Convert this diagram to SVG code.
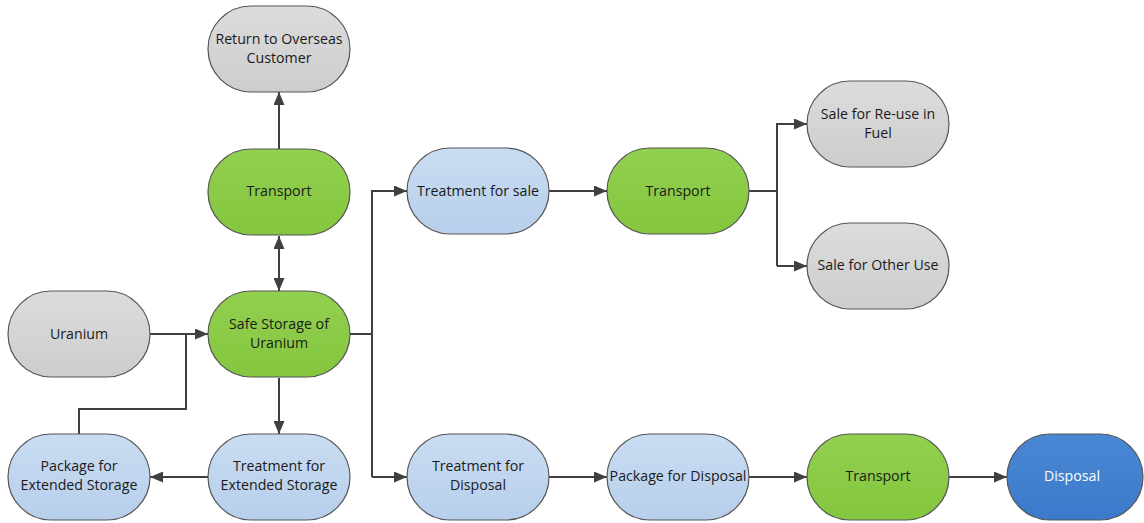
<svg xmlns="http://www.w3.org/2000/svg" width="1144" height="523" viewBox="0 0 1144 523">
<defs>
<linearGradient id="gGray" x1="0" y1="0" x2="0" y2="1"><stop offset="0" stop-color="#dcdcdc"/><stop offset="1" stop-color="#cdcdcd"/></linearGradient>
<linearGradient id="gGreen" x1="0" y1="0" x2="0" y2="1"><stop offset="0" stop-color="#92d050"/><stop offset="1" stop-color="#84c63e"/></linearGradient>
<linearGradient id="gLBlue" x1="0" y1="0" x2="0" y2="1"><stop offset="0" stop-color="#c9dcf2"/><stop offset="1" stop-color="#b7cfeb"/></linearGradient>
<linearGradient id="gBlue" x1="0" y1="0" x2="0" y2="1"><stop offset="0" stop-color="#4a88d4"/><stop offset="1" stop-color="#3b7acb"/></linearGradient>
<marker id="ah" viewBox="0 0 13 11" refX="13" refY="5.5" markerWidth="13" markerHeight="11" markerUnits="userSpaceOnUse" orient="auto-start-reverse">
<path d="M0,0 L13,5.5 L0,11 z" fill="#404040"/>
</marker>
</defs>
<style>
.n rect{stroke:#555;stroke-width:1.2}
.gray rect{fill:url(#gGray)}
.green rect{fill:url(#gGreen)}
.lblue rect{fill:url(#gLBlue)}
.blue rect{fill:url(#gBlue)}
.n text{font-family:"Open Sans","Liberation Sans",sans-serif;font-size:14.2px;fill:#1a1a1a;text-anchor:middle}
.blue text{fill:#ffffff}
.c path{fill:none;stroke:#404040;stroke-width:2}
</style>
<g class="c">
<path d="M279,149 V92" marker-end="url(#ah)"/>
<path d="M279,236 V291" marker-start="url(#ah)" marker-end="url(#ah)"/>
<path d="M150,334 H208" marker-end="url(#ah)"/>
<path d="M79,434 V409 H186 V334"/>
<path d="M279,378 V434" marker-end="url(#ah)"/>
<path d="M208,477 H150" marker-end="url(#ah)"/>
<path d="M350,334 H372"/>
<path d="M372,477 V191 H407" marker-end="url(#ah)"/>
<path d="M372,477 H407" marker-end="url(#ah)"/>
<path d="M549,191 H607" marker-end="url(#ah)"/>
<path d="M749,191 H777"/>
<path d="M777,266 V124 H807" marker-end="url(#ah)"/>
<path d="M777,266 H807" marker-end="url(#ah)"/>
<path d="M549,477 H607" marker-end="url(#ah)"/>
<path d="M749,477 H807" marker-end="url(#ah)"/>
<path d="M949,477 H1007" marker-end="url(#ah)"/>
</g>
<g id="return" class="n gray"><rect x="208" y="6" width="142" height="86" rx="43"/><text x="279" y="44">Return to Overseas</text><text x="279" y="63">Customer</text></g>
<g id="transport1" class="n green"><rect x="208" y="149" width="142" height="86" rx="43"/><text x="279" y="196">Transport</text></g>
<g id="uranium" class="n gray"><rect x="8" y="291" width="142" height="86" rx="43"/><text x="79" y="339">Uranium</text></g>
<g id="safe" class="n green"><rect x="208" y="291" width="142" height="86" rx="43"/><text x="279" y="329">Safe Storage of</text><text x="279" y="348">Uranium</text></g>
<g id="pkgext" class="n lblue"><rect x="8" y="434" width="142" height="86" rx="43"/><text x="79" y="471">Package for</text><text x="79" y="490">Extended Storage</text></g>
<g id="treatext" class="n lblue"><rect x="208" y="434" width="142" height="86" rx="43"/><text x="279" y="471">Treatment for</text><text x="279" y="490">Extended Storage</text></g>
<g id="treatsale" class="n lblue"><rect x="407" y="148" width="142" height="86" rx="43"/><text x="478" y="196">Treatment for sale</text></g>
<g id="transport2" class="n green"><rect x="607" y="148" width="142" height="86" rx="43"/><text x="678" y="196">Transport</text></g>
<g id="salefuel" class="n gray"><rect x="807" y="81" width="142" height="86" rx="43"/><text x="878" y="119">Sale for Re-use in</text><text x="878" y="138">Fuel</text></g>
<g id="saleother" class="n gray"><rect x="807" y="223" width="142" height="86" rx="43"/><text x="878" y="270">Sale for Other Use</text></g>
<g id="treatdisp" class="n lblue"><rect x="407" y="434" width="142" height="86" rx="43"/><text x="478" y="471">Treatment for</text><text x="478" y="490">Disposal</text></g>
<g id="pkgdisp" class="n lblue"><rect x="607" y="434" width="142" height="86" rx="43"/><text x="678" y="481">Package for Disposal</text></g>
<g id="transport3" class="n green"><rect x="807" y="434" width="142" height="86" rx="43"/><text x="878" y="481">Transport</text></g>
<g id="disposal" class="n blue"><rect x="1007" y="434" width="136" height="86" rx="43"/><text x="1072" y="481">Disposal</text></g>
</svg>
